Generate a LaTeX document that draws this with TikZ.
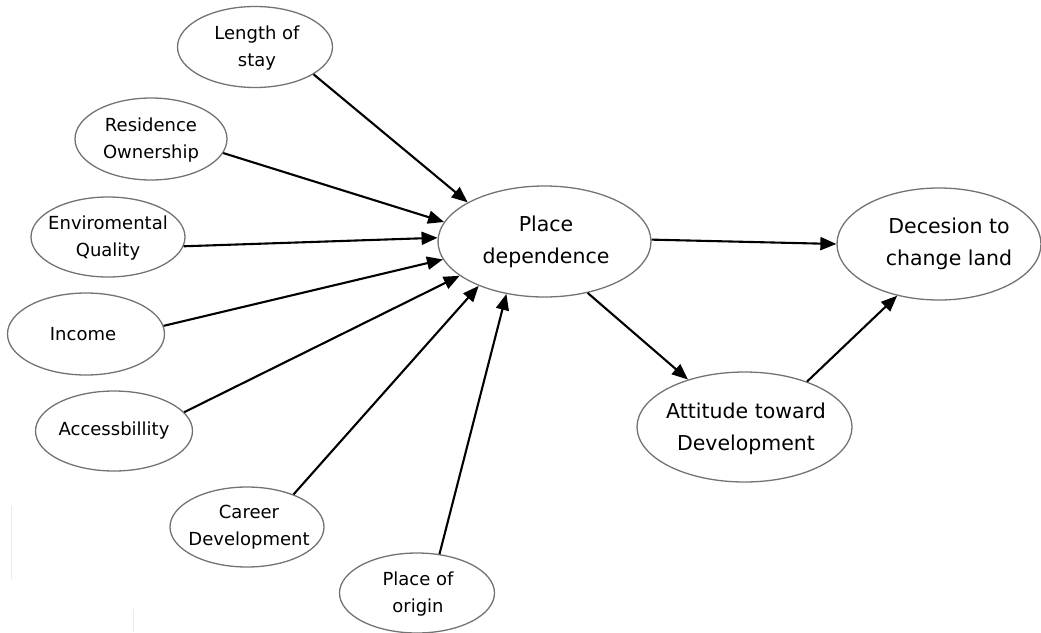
\documentclass[tikz,border=0pt]{standalone}
\usepackage{fontspec}
\setmainfont{DejaVu Sans}
\usetikzlibrary{shapes.geometric,arrows.meta}
\tikzset{
  oval/.style={ellipse, draw=black!55, line width=1.3pt, fill=white, inner sep=0pt},
  small/.style={oval, minimum width=155pt, minimum height=81pt},
  stxt/.style={align=center, font=\fontsize{18}{27}\selectfont, inner sep=0pt},
  btxt/.style={align=center, font=\fontsize{20.5}{32}\selectfont, inner sep=0pt},
  arr/.style={-{Triangle[length=16pt,width=13pt]}, line width=2.1pt, black},
  faint/.style={black!8, line width=0.8pt}
}
\begin{document}
\begin{tikzpicture}[x=1pt,y=-1pt]
\useasboundingbox (0,0) rectangle (1041,632);
\draw[faint] (11,506) -- (11,580);
\draw[faint] (133,609) -- (133,632);
% small ellipses
\node[small] (los) at (255,47) {};
\node[stxt] at (257,48) {Length of\\stay};
\node[small, minimum width=152pt, minimum height=82pt] (ro) at (151,139) {};
\node[stxt] at (151,140) {Residence\\Ownership};
\node[small, minimum width=154pt, minimum height=80pt] (eq) at (108,237) {};
\node[stxt] at (108,238) {Enviromental\\Quality};
\node[small, minimum width=157pt, minimum height=82pt] (inc) at (86,334) {};
\node[stxt] at (83,334) {Income};
\node[small, minimum width=157pt, minimum height=80pt] (acc) at (114,431) {};
\node[stxt] at (114,431) {Accessbillity};
\node[small, minimum width=154pt, minimum height=80pt] (cd) at (247,527) {};
\node[stxt] at (249,527) {Career\\Development};
\node[small, minimum width=155pt, minimum height=80pt] (po) at (417,593) {};
\node[stxt] at (418,594) {Place of\\origin};
% big ellipses
\node[oval, minimum width=213pt, minimum height=111pt] (pd) at (544.5,241.5) {};
\node[btxt] at (546,242) {Place\\dependence};
\node[oval, minimum width=204pt, minimum height=112pt] (dc) at (939,244) {};
\node[btxt] at (949,244) {Decesion to\\change land};
\node[oval, minimum width=215pt, minimum height=110pt] (att) at (744.5,427) {};
\node[btxt] at (746,429) {Attitude toward\\Development};
% arrows
\draw[arr] (los.-25.8) -- (pd.153.6);
\draw[arr] (ro.-11) -- (pd.169);
\draw[arr] (eq.-7.3) -- (pd.178.7);
\draw[arr] (inc.6.8) -- (pd.190.3);
\draw[arr] (acc.15.4) -- (pd.202.9);
\draw[arr] (cd.35.3) -- (pd.214.6);
\draw[arr] (po.60) -- (pd.234.1);
\draw[arr] (pd.1) -- (dc.180);
\draw[arr] (pd.-50.5) -- (att.140);
\draw[arr] (att.36.8) -- (dc.231.5);
\end{tikzpicture}
\end{document}
